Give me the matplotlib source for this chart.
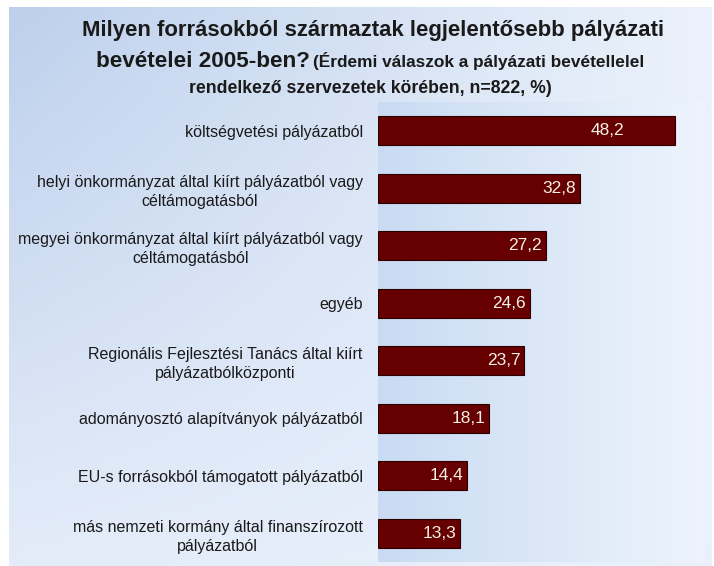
import numpy as np
import matplotlib
matplotlib.use('Agg')
import matplotlib.pyplot as plt

# Adatok
categories = [
    'költségvetési pályázatból',
    'helyi önkormányzat által kiírt pályázatból vagy\ncéltámogatásból',
    'megyei önkormányzat által kiírt pályázatból vagy\ncéltámogatásból',
    'egyéb',
    'Regionális Fejlesztési Tanács által kiírt\npályázatbólközponti',
    'adományosztó alapítványok pályázatból',
    'EU-s forrásokból támogatott pályázatból',
    'más nemzeti kormány által finanszírozott\npályázatból',
]
values = [48.2, 32.8, 27.2, 24.6, 23.7, 18.1, 14.4, 13.3]
value_labels = ['48,2', '32,8', '27,2', '24,6', '23,7', '18,1', '14,4', '13,3']

plt.rcParams['font.family'] = ['Liberation Sans', 'DejaVu Sans']

W, H = 714, 566
fig = plt.figure(figsize=(W / 100, H / 100), dpi=100)
fig.patch.set_facecolor('white')

# háttér színátmenet (bal felső kék -> jobb / alsó világos)
bg = fig.add_axes([9 / W, 0, (712 - 9) / W, (566 - 7) / H])
tl = np.array([0.74, 0.816, 0.925])
tr = np.array([0.925, 0.950, 0.985])
bl = np.array([0.895, 0.925, 0.978])
br = np.array([0.915, 0.945, 0.988])
gx = np.linspace(0, 1, 200)[None, :, None]
gy = np.linspace(0, 1, 200)[:, None, None]
img = (tl * (1 - gx) * (1 - gy) + tr * gx * (1 - gy) + bl * (1 - gx) * gy + br * gx * gy)
bg.imshow(img, aspect='auto', extent=[0, 1, 0, 1], interpolation='bilinear')
bg.axis('off')

# diagram terület
left, right, top, bottom = 378, 705, 102, 562
ax_pos = [left / W, (H - bottom) / H, (right - left) / W, (bottom - top) / H]
pa = fig.add_axes(ax_pos)
pl = np.array([0.79, 0.86, 0.95])
pr = np.array([0.93, 0.955, 0.99])
pimg = pl * (1 - gx) + pr * gx
pimg = np.repeat(pimg, 200, axis=0)
pa.imshow(pimg, aspect='auto', extent=[0, 1, 0, 1], interpolation='bilinear')
pa.axis('off')

ax = fig.add_axes(ax_pos)
ax.patch.set_alpha(0)
y = np.arange(len(values))
ax.barh(y, values, height=0.5, color='#660000', edgecolor='#2b0000', linewidth=0.8)
ax.set_xlim(0, (right - left) / 6.16)
ax.set_ylim(len(values) - 0.5, -0.5)

for i, v in enumerate(values):
    xpos = min(v - 0.6, 40.0)
    ax.text(xpos, i, value_labels[i], ha='right', va='center',
            color='#f4efe4', fontsize=12.5)

ax.set_yticks(y)
ax.set_yticklabels(categories, fontsize=11.5, color='#1a1a1a', linespacing=1.35)
for lab in ax.get_yticklabels():
    lab.set_multialignment('center')
ax.tick_params(axis='y', length=0, pad=11)
ax.set_xticks([])
for s in ax.spines.values():
    s.set_visible(False)

# cím
fig.text(0.522, 1 - 36 / H, 'Milyen forrásokból származtak legjelentősebb pályázati',
         ha='center', va='baseline', fontsize=15.9, fontweight='bold', color='#1a1a1a')
fig.text(310 / W, 1 - 67 / H, 'bevételei 2005-ben?', ha='right', va='baseline',
         fontsize=16.2, fontweight='bold', color='#1a1a1a')
fig.text(313 / W, 1 - 67 / H, '(Érdemi válaszok a pályázati bevétellelel',
         ha='left', va='baseline', fontsize=12.4, fontweight='bold', color='#1a1a1a')
fig.text(370 / W, 1 - 93 / H, 'rendelkező szervezetek körében, n=822, %)',
         ha='center', va='baseline', fontsize=12.7, fontweight='bold', color='#1a1a1a')

fig.savefig('out.png', dpi=100)
